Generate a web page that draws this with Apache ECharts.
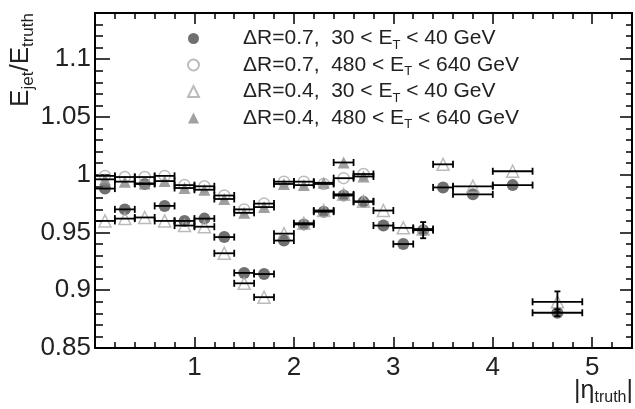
<!DOCTYPE html>
<html><head><meta charset="utf-8">
<script src="https://cdn.jsdelivr.net/npm/echarts@6/dist/echarts.min.js"></script>
<style>html,body{margin:0;padding:0;background:#fff}#c{width:635px;height:409px}</style>
</head><body><div id="c"></div>
<script>
// bin centres in |eta_truth| and half bin widths
const eta       = [0.1,0.3,0.5,0.7,0.9,1.1,1.3,1.5,1.7,1.9,2.1,2.3,2.5,2.7,2.9,3.1,3.3,3.5,3.8,4.2,4.65];
const halfWidth = [0.1,0.1,0.1,0.1,0.1,0.1,0.1,0.1,0.1,0.1,0.1,0.1,0.1,0.1,0.1,0.1,0.1,0.1,0.2,0.2,0.25];

// dR=0.7, 30<ET<40
const r07Low    = [0.988,0.970,0.992,0.973,0.960,0.962,0.946,0.915,0.914,0.943,0.957,0.968,0.982,0.9765,0.956,0.940,0.952,0.989,0.983,0.991,0.8805];
const r07LowErr = [0,0,0,0,0,0,0,0,0,0,0,0,0,0,0,0,0.007,0,0,0,0.003];
// dR=0.7, 480<ET<640
const r07High   = [0.999,0.998,0.998,0.999,0.991,0.990,0.982,0.970,0.975,0.994,0.994,0.992,0.997,1.0006];
// dR=0.4, 30<ET<40
const r04Low    = [0.960,0.962,0.963,0.960,0.956,0.955,0.932,0.906,0.894,0.949,0.958,0.969,0.983,0.977,0.969,0.954,0.953,1.009,0.990,1.003,0.890];
const r04LowErr = [0,0,0,0,0,0,0,0,0,0,0,0,0,0,0,0,0,0,0,0,0.009];
// dR=0.4, 480<ET<640
const r04High   = [0.996,0.994,0.9925,0.9945,0.9885,0.987,0.979,0.967,0.972,0.992,0.991,0.993,1.0106,0.9985];

const legendPre  = ['ΔR=0.7,  30 < E','ΔR=0.7,  480 < E','ΔR=0.4,  30 < E','ΔR=0.4,  480 < E'];
const legendPost = [' < 40 GeV',' < 640 GeV',' < 40 GeV',' < 640 GeV'];
const seriesNames = legendPre.map((p,i)=>p+'T'+legendPost[i]);

const xTickLabels = ['1','2','3','4','5'];
const yTickLabels = ['0.85','0.9','0.95','1','1.05','1.1'];

function pts(vals){ return vals.map((v,i)=>[eta[i], v]); }
function bars(vals, errs){ return vals.map((v,i)=>[eta[i], v, halfWidth[i], errs ? errs[i] : 0]); }

const barData = [].concat(
  bars(r07Low, r07LowErr), bars(r07High), bars(r04Low, r04LowErr), bars(r04High)
);

function renderBars(params, api){
  const x = api.value(0), y = api.value(1), hw = api.value(2), ye = api.value(3);
  const l = api.coord([x-hw, y]), r = api.coord([x+hw, y]);
  const st = {stroke:'#000', lineWidth:1.8};
  const c = [
    {type:'line', shape:{x1:l[0],y1:l[1],x2:r[0],y2:r[1]}, style:st},
    {type:'line', shape:{x1:l[0],y1:l[1]-3.5,x2:l[0],y2:l[1]+3.5}, style:st},
    {type:'line', shape:{x1:r[0],y1:r[1]-3.5,x2:r[0],y2:r[1]+3.5}, style:st}
  ];
  if (ye > 0) {
    const b = api.coord([x, y-ye]), t = api.coord([x, y+ye]);
    c.push({type:'line', shape:{x1:b[0],y1:b[1],x2:t[0],y2:t[1]}, style:st});
    c.push({type:'line', shape:{x1:t[0]-3,y1:t[1],x2:t[0]+3,y2:t[1]}, style:st});
    c.push({type:'line', shape:{x1:b[0]-3,y1:b[1],x2:b[0]+3,y2:b[1]}, style:st});
  }
  return {type:'group', children:c};
}

const tickCol = '#000';
function xAx(pos, labels){
  return {
    type:'value', position:pos, min:0, max:5.4, interval:1,
    axisLine:{show:true, onZero:false, lineStyle:{color:'#000', width:2}},
    axisTick:{show:true, inside:true, length:11, lineStyle:{color:tickCol, width:1.5}},
    minorTick:{show:true, splitNumber:5, length:6, lineStyle:{color:tickCol, width:1.5}},
    splitLine:{show:false}, minorSplitLine:{show:false},
    axisLabel:{show:labels, fontFamily:'Liberation Sans', fontSize:26, color:'#222', margin:7,
      showMinLabel:false, showMaxLabel:false,
      formatter:v=>{const s=String(Math.round(v)); return xTickLabels.includes(s)?s:'';}}
  };
}
function yAx(pos, labels){
  return {
    type:'value', position:pos, min:0.85, max:1.14, interval:0.05,
    axisLine:{show:true, onZero:false, lineStyle:{color:'#000', width:2}},
    axisTick:{show:true, inside:true, length:labels?15:12, lineStyle:{color:tickCol, width:1.5}},
    minorTick:{show:true, splitNumber:5, length:labels?8:6, lineStyle:{color:tickCol, width:1.5}},
    splitLine:{show:false}, minorSplitLine:{show:false},
    axisLabel:{show:labels, fontFamily:'Liberation Sans', fontSize:26, color:'#222', margin:4,
      showMaxLabel:false,
      formatter:v=>{const s=String(Math.round(v*100)/100); return yTickLabels.includes(s)?s:'';}}
  };
}

const chart = echarts.init(document.getElementById('c'), null, {renderer:'canvas'});
chart.setOption({
  animation:false,
  backgroundColor:'#fff',
  grid:{left:95, right:3, top:13, bottom:61, containLabel:false},
  xAxis:[xAx('bottom', true), xAx('top', false)],
  yAxis:[yAx('left', true), yAx('right', false)],
  legend:{
    orient:'vertical', left:182, top:23, itemWidth:11, itemHeight:11, itemGap:3,
    selectedMode:false,
    data:seriesNames,
    formatter:name=>{const i=seriesNames.indexOf(name); return '{g|}{a|'+legendPre[i]+'}{s|T}{a|'+legendPost[i]+'}';},
    textStyle:{color:'#222', rich:{
      g:{width:39, lineHeight:26},
      a:{fontFamily:'Liberation Sans', fontSize:21, lineHeight:26, color:'#222'},
      s:{fontFamily:'Liberation Sans', fontSize:13, lineHeight:13, verticalAlign:'bottom', color:'#222'}
    }}
  },
  graphic:[
    {type:'text', x:21, y:13, rotation:Math.PI/2, style:{
      text:'{e|E}{s|jet}{e|/E}{s|truth}', align:'right', verticalAlign:'middle',
      rich:{e:{fontFamily:'Liberation Sans', fontSize:26, lineHeight:32, fill:'#222'},
            s:{fontFamily:'Liberation Sans', fontSize:17, lineHeight:17, verticalAlign:'bottom', fill:'#222'}}}},
    {type:'text', right:2, top:379, style:{
      text:'{e|\u007Cη}{s|truth}{e|\u007C}', 
      rich:{e:{fontFamily:'Liberation Sans', fontSize:25, lineHeight:28, fill:'#222'},
            s:{fontFamily:'Liberation Sans', fontSize:16, lineHeight:16, verticalAlign:'bottom', fill:'#222'}}}}
  ],
  series:[
    {name:seriesNames[0], type:'scatter', data:pts(r07Low), symbol:'circle', symbolSize:12, z:3,
     itemStyle:{color:'#4c4c4c'}, emphasis:{disabled:true}},
    {name:seriesNames[1], type:'scatter', data:pts(r07High), symbol:'circle', symbolSize:11, z:3,
     itemStyle:{color:'rgba(255,255,255,0)', borderColor:'#aaa', borderWidth:1.5}, emphasis:{disabled:true}},
    {name:seriesNames[2], type:'scatter', data:pts(r04Low), symbol:'triangle', symbolSize:12, z:3,
     itemStyle:{color:'rgba(255,255,255,0)', borderColor:'#aaa', borderWidth:1.5}, emphasis:{disabled:true}},
    {name:seriesNames[3], type:'scatter', data:pts(r04High), symbol:'triangle', symbolSize:12, z:3,
     itemStyle:{color:'#888'}, emphasis:{disabled:true}},
    {name:'bars', type:'custom', data:barData, renderItem:renderBars, z:4, clip:true,
     encode:{x:0, y:1}, dimensions:['x','y','hw','ye'], silent:true}
  ]
});
</script></body></html>
